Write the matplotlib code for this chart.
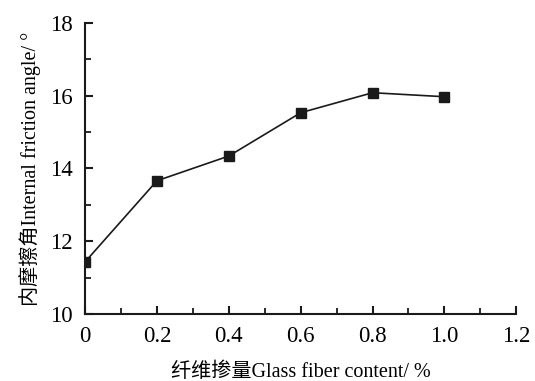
import matplotlib
matplotlib.use('Agg')
import matplotlib.pyplot as plt
from matplotlib.ticker import MultipleLocator

fiber = [0, 0.2, 0.4, 0.6, 0.8, 1.0]
angle = [11.43, 13.66, 14.34, 15.53, 16.08, 15.97]
xtick_labels = ['0', '0.2', '0.4', '0.6', '0.8', '1.0', '1.2']

plt.rcParams['font.family'] = ['Liberation Serif', 'Noto Sans CJK SC']

fig = plt.figure(figsize=(5.35, 3.81), dpi=100)
ax = fig.add_axes([0.159, 0.176, 0.806, 0.764])

ax.plot(fiber, angle, color='#1a1a1a', lw=1.2, marker='s', ms=6.5,
        mfc='#1a1a1a', mec='#1a1a1a')

ax.set_xlim(0, 1.2)
ax.set_ylim(10, 18)
ax.set_xticks([0, 0.2, 0.4, 0.6, 0.8, 1.0, 1.2])
ax.set_xticklabels(xtick_labels)
ax.xaxis.set_minor_locator(MultipleLocator(0.1))
ax.yaxis.set_major_locator(MultipleLocator(2))
ax.yaxis.set_minor_locator(MultipleLocator(1))

for s in ['top', 'right']:
    ax.spines[s].set_visible(False)
for s in ['left', 'bottom']:
    ax.spines[s].set_linewidth(1.5)
    ax.spines[s].set_color('#1a1a1a')

ax.tick_params(which='major', direction='in', length=6, width=1.5,
               color='#1a1a1a', labelsize=16.5, pad=9)
ax.tick_params(which='minor', direction='in', length=4, width=1.3,
               color='#1a1a1a')

ax.set_xlabel('纤维掺量Glass fiber content/ %', fontsize=14.5, labelpad=11)
ax.set_ylabel('内摩擦角Internal friction angle/ °', fontsize=14.5, labelpad=6)

fig.savefig('out.png', dpi=100)
